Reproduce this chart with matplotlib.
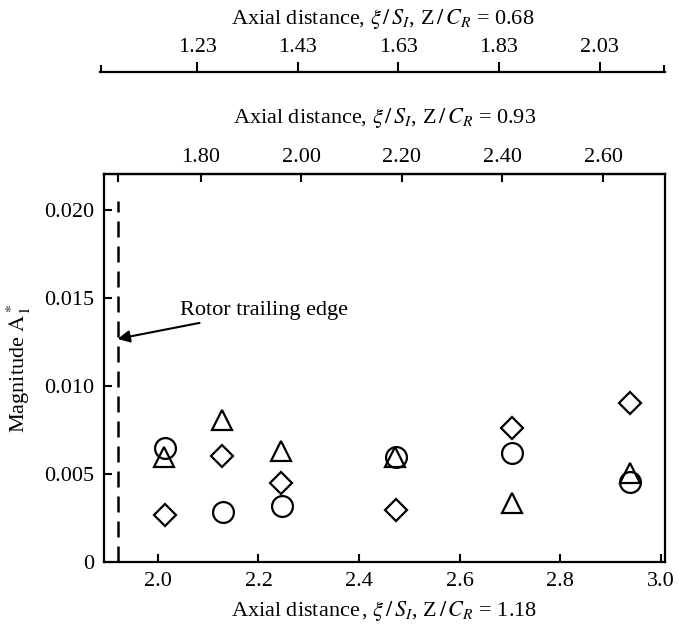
import matplotlib
matplotlib.use("Agg")
from matplotlib import pyplot as plt
from matplotlib.ticker import FixedLocator, NullFormatter

plt.rcParams['font.family'] = ['Liberation Serif', 'DejaVu Serif']
plt.rcParams['mathtext.fontset'] = 'stix'

# datos
x_circulo = [2.014, 2.130, 2.247, 2.473, 2.704, 2.938]
y_circulo = [0.0065, 0.00286, 0.00318, 0.00597, 0.00621, 0.00457]
x_triangulo = [2.012, 2.127, 2.245, 2.472, 2.703, 2.938]
y_triangulo = [0.00597, 0.00807, 0.00633, 0.00595, 0.00333, 0.00504]
x_rombo = [2.014, 2.128, 2.245, 2.473, 2.703, 2.938]
y_rombo = [0.00267, 0.00602, 0.00447, 0.00298, 0.0076, 0.00905]

x_borde = 1.92
y_borde_max = 0.0205

ticks_abajo = [2.0, 2.2, 2.4, 2.6, 2.8, 3.0]
ticks_y = [0, 0.005, 0.010, 0.015, 0.020]
etiquetas_y = ["0", "0.005", "0.010", "0.015", "0.020"]
ticks_093 = [1.80, 2.00, 2.20, 2.40, 2.60]
ticks_068 = [1.23, 1.43, 1.63, 1.83, 2.03]
desfase_093 = 0.285
desfase_068 = 0.848

XMIN, XMAX = 1.893, 3.008
FS = 16

fig = plt.figure(figsize=(6.79, 6.29), dpi=100)
ax = fig.add_axes([104 / 679, 1 - 562 / 629, (665 - 104) / 679, (562 - 174) / 629])

ax.plot([x_borde, x_borde], [0, y_borde_max], color='black', lw=1.8, linestyle=(0, (6.4, 3.6)))
ax.plot(x_circulo, y_circulo, 'o', ms=15, mfc='none', mec='black', mew=1.6)
ax.plot(x_triangulo, y_triangulo, '^', ms=15, mfc='none', mec='black', mew=1.6)
ax.plot(x_rombo, y_rombo, 'D', ms=11, mfc='none', mec='black', mew=1.6)

ax.annotate("Rotor trailing edge", xy=(x_borde, 0.01268), xytext=(2.044, 0.0143),
            fontsize=FS, va='center', ha='left',
            arrowprops=dict(arrowstyle='-|>', color='black', lw=1.5, mutation_scale=18,
                            shrinkA=1, shrinkB=0))

ax.set_xlim(XMIN, XMAX)
ax.set_ylim(0, 0.02205)
ax.set_xticks(ticks_abajo)
ax.set_xticklabels([f"{t:.1f}" for t in ticks_abajo])
ax.set_yticks(ticks_y)
ax.set_yticklabels(etiquetas_y)
ax.tick_params(direction='in', length=6, width=1.5, labelsize=FS, pad=7)
ax.set_xlabel(r"Axial distance$\,$, $\xi\,/\,S_I$, Z$\,/\,C_R$ = 1.18", fontsize=FS, labelpad=6)
ax.set_ylabel(r"Magnitude $\mathrm{A}_1^*$", fontsize=FS, labelpad=8)
for s in ax.spines.values():
    s.set_linewidth(1.6)

# eje superior Z/C_R = 0.93
sec = ax.secondary_xaxis('top', functions=(lambda x: x - desfase_093, lambda x: x + desfase_093))
sec.set_xticks(ticks_093)
sec.set_xticklabels([f"{t:.2f}" for t in ticks_093])
sec.xaxis.set_minor_locator(FixedLocator([x_borde - desfase_093]))
sec.xaxis.set_minor_formatter(NullFormatter())
sec.tick_params(which='both', direction='in', length=6, width=1.5, labelsize=FS, pad=5)
sec.set_xlabel(r"Axial distance, $\xi\,/\,S_I$, Z$\,/\,C_R$ = 0.93", fontsize=FS, labelpad=18)
sec.spines['top'].set_linewidth(1.6)

# eje suelto Z/C_R = 0.68
izq = 100
ax3 = fig.add_axes([izq / 679, 1 - 72 / 629, (665 - izq) / 679, 0.0001])
for lado in ['left', 'right', 'bottom']:
    ax3.spines[lado].set_visible(False)
ax3.spines['top'].set_linewidth(1.6)
ax3.set_yticks([])
lo3 = XMIN - (104 - izq) / 502.6 - desfase_068
hi3 = XMAX - desfase_068
ax3.set_xlim(lo3, hi3)
ax3.xaxis.tick_top()
ax3.xaxis.set_label_position('top')
ax3.set_xticks(ticks_068)
ax3.set_xticklabels([f"{t:.2f}" for t in ticks_068])
ax3.xaxis.set_minor_locator(FixedLocator([lo3 + 0.001, hi3 - 0.001]))
ax3.xaxis.set_minor_formatter(NullFormatter())
ax3.tick_params(which='major', direction='out', length=7, width=1.5, labelsize=FS, pad=4)
ax3.tick_params(which='minor', direction='out', length=5, width=1.5)
ax3.set_xlabel(r"Axial distance, $\xi\,/\,S_I$, Z$\,/\,C_R$ = 0.68", fontsize=FS, labelpad=10)

fig.savefig("out.png", dpi=100)
